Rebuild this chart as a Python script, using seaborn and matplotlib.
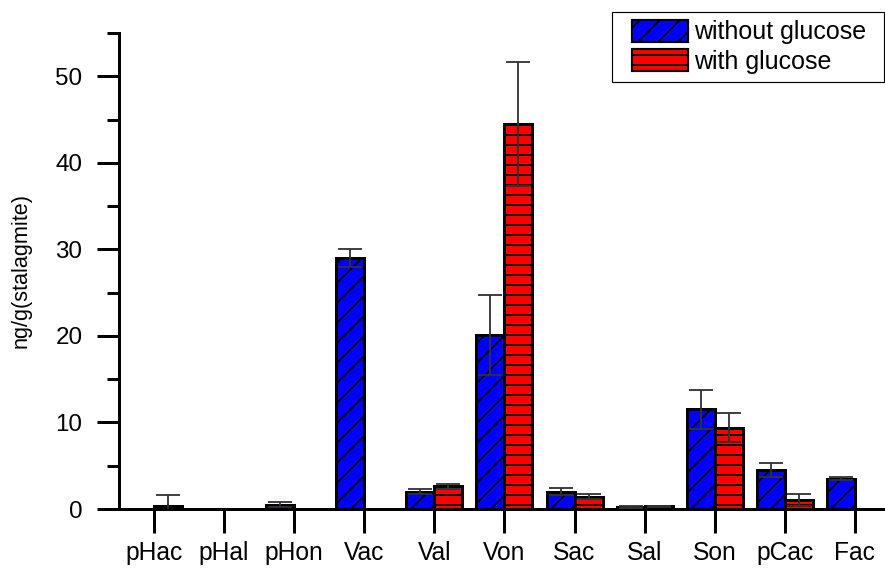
import numpy as np
import pandas as pd
import seaborn as sns
import matplotlib.pyplot as plt
from matplotlib.patches import Patch, Rectangle
from matplotlib.ticker import MultipleLocator

categories = ['pHac', 'pHal', 'pHon', 'Vac', 'Val', 'Von', 'Sac', 'Sal', 'Son', 'pCac', 'Fac']
without_glucose = [np.nan, np.nan, 0.5, 29.0, 2.0, 20.1, 2.0, 0.2, 11.5, 4.5, 3.5]
without_err = [np.nan, np.nan, 0.3, 1.0, 0.3, 4.6, 0.4, 0.1, 2.2, 0.8, 0.2]
with_glucose = [0.3, np.nan, np.nan, np.nan, 2.6, 44.5, 1.4, 0.3, 9.4, 1.0, np.nan]
with_err = [1.3, np.nan, np.nan, np.nan, 0.3, 7.2, 0.3, 0.1, 1.7, 0.7, np.nan]
series = ['without glucose', 'with glucose']
colors = ['#0000FF', '#FF0000']
hatches = ['//', '--']

df = pd.concat([
    pd.DataFrame({'cat': categories, 'value': without_glucose, 'series': series[0]}),
    pd.DataFrame({'cat': categories, 'value': with_glucose, 'series': series[1]}),
], ignore_index=True)

sns.set_style('ticks')
plt.rcParams['font.family'] = ['Liberation Sans', 'DejaVu Sans']
plt.rcParams['hatch.linewidth'] = 1.1
for k in ['text.color', 'axes.labelcolor', 'xtick.color', 'ytick.color', 'axes.edgecolor']:
    plt.rcParams[k] = 'black'

fig = plt.figure(figsize=(885 / 120, 573 / 120), dpi=120)
ax = fig.add_axes([119 / 885, 64 / 573, 766 / 885, 476 / 573])

sns.barplot(data=df, x='cat', y='value', hue='series', order=categories,
            hue_order=series, palette=colors, saturation=1, errorbar=None,
            width=0.8, edgecolor='black', linewidth=1.8, legend=False, ax=ax)

for cont, h in zip(ax.containers, hatches):
    for bar in cont:
        bar.set_hatch(h)

x = np.arange(len(categories))
ax.errorbar(x - 0.2, without_glucose, yerr=without_err, fmt='none', ecolor='#333333',
            elinewidth=1.1, capsize=7.2, capthick=1.1, zorder=3)
ax.errorbar(x + 0.2, with_glucose, yerr=with_err, fmt='none', ecolor='#333333',
            elinewidth=1.1, capsize=7.2, capthick=1.1, zorder=3)

ax.set_xlim(-0.5, 10.43)
ax.set_ylim(0, 55)
ax.yaxis.set_major_locator(MultipleLocator(10))
ax.yaxis.set_minor_locator(MultipleLocator(5))
ax.set_xlabel('')
ax.set_ylabel('ng/g(stalagmite)', fontsize=13, labelpad=14)

sns.despine(ax=ax)
for s in ['left', 'bottom']:
    ax.spines[s].set_linewidth(1.8)
ax.tick_params(axis='y', which='major', direction='out', length=13, width=1.8,
               labelsize=14.5, pad=9)
ax.tick_params(axis='y', which='minor', direction='out', length=7, width=1.8)
ax.tick_params(axis='x', which='major', direction='out', length=14.4, width=1.8,
               labelsize=14.8, pad=5)

# legend entries without frame, box drawn separately to match the wide frame
handles = [Patch(facecolor=c, edgecolor='black', hatch=h, linewidth=1.3)
           for c, h in zip(colors, hatches)]
leg = fig.legend(handles, series, loc='upper left', bbox_to_anchor=(632 / 885, 1 - 20 / 573),
                 fontsize=15, frameon=False,
                 handlelength=2.25, handleheight=0.95, handletextpad=0.25,
                 labelspacing=0.2, borderpad=0, borderaxespad=0)
fig.patches.append(Rectangle((612 / 885, 1 - 82 / 573), 272 / 885, 70 / 573,
                             transform=fig.transFigure, fill=False,
                             edgecolor='black', linewidth=0.7))

fig.savefig('out.png', dpi=120)
